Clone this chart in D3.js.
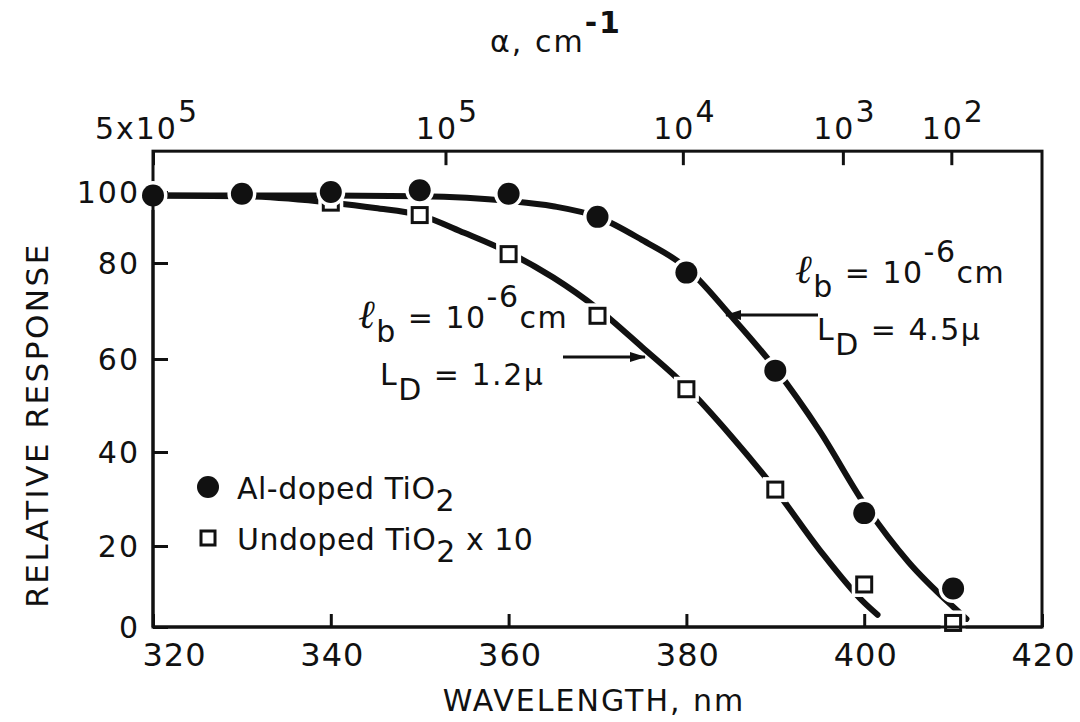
<!DOCTYPE html>
<html>
<head>
<meta charset="utf-8">
<script src="https://cdn.jsdelivr.net/npm/d3@7"></script>
<style>
  html, body { margin: 0; padding: 0; background: #fff; }
  svg { display: block; }
  text { font-family: "DejaVu Sans", sans-serif; fill: #111; }
</style>
</head>
<body>
<svg id="chart" width="1080" height="722"></svg>
<script>
// ---- data ----
const wavelengths = [320, 330, 340, 350, 360, 370, 380, 390, 400, 410];
const alDoped = [99, 99.5, 100, 100.5, 99.5, 93, 78, 57.5, 27, 9.5];
const undopedWl = [340, 350, 360, 370, 380, 390, 400, 410];
const undopedX10 = [97, 93.5, 82.5, 69, 53.5, 32, 10.5, 1];

// fitted (theory) curves
const alCurveWl = [320, 330, 340, 350, 360, 365, 370, 375, 380, 385, 390, 395, 400, 405, 410, 411.5];
const alCurveVal = [99, 99, 99, 98.8, 97.5, 96, 93, 86.5, 79, 69, 58, 44.5, 29, 16, 5, 2];
const undCurveWl = [320, 330, 340, 345, 350, 355, 360, 365, 370, 375, 380, 385, 390, 395, 400, 401.5];
const undCurveVal = [99, 98.8, 97, 95.5, 93.5, 88.5, 83, 77, 70.5, 62.5, 54, 43.5, 32, 19, 6, 3];

const xTicks = [320, 340, 360, 380, 400, 420];
const yTicks = [0, 20, 40, 60, 80, 100];
// top axis: absorption coefficient alpha, placed at the wavelength where it occurs
const alphaWl = [320, 352.9, 379.6, 397.6, 409.8];
const alphaMant = ["5x10", "10", "10", "10", "10"];
const alphaExp = ["5", "5", "4", "3", "2"];

// ---- scales ----
const svg = d3.select("#chart");
const x = d3.scaleLinear().domain([320, 420]).range([153, 1042]);
// hand-drawn ordinate of the original figure (uneven tick spacing)
const y = d3.scaleLinear().domain([0, 20, 40, 60, 80, 100]).range([627, 546, 452, 359, 263, 192]);
const yTop = y(111.5);

const FS = 30;
const SW = 3;

// frame
svg.append("rect")
  .attr("x", x(320)).attr("y", yTop)
  .attr("width", x(420) - x(320)).attr("height", y(0) - yTop)
  .attr("fill", "none").attr("stroke", "#111").attr("stroke-width", SW);

// bottom axis
const gx = svg.append("g").attr("transform", `translate(0,${y(0)})`)
  .call(d3.axisBottom(x).tickValues(xTicks).tickSize(-13).tickPadding(16).tickFormat(d3.format("d")));
gx.select(".domain").remove();
gx.selectAll(".tick line").attr("stroke", "#111").attr("stroke-width", SW);
gx.selectAll(".tick text").attr("font-size", 32).attr("letter-spacing", 1).attr("fill", "#111")
  .attr("font-family", "DejaVu Sans")
  .attr("dx", d => d === 320 ? 21 : 1);

// left axis
const gy = svg.append("g").attr("transform", `translate(${x(320)},0)`)
  .call(d3.axisLeft(y).tickValues(yTicks).tickSize(-15).tickPadding(13).tickFormat(d3.format("d")));
gy.select(".domain").remove();
gy.selectAll(".tick line").attr("stroke", "#111").attr("stroke-width", SW);
gy.selectAll(".tick text").attr("font-size", 30).attr("letter-spacing", 2).attr("fill", "#111")
  .attr("font-family", "DejaVu Sans").attr("dy", "0.36em");

// top axis
const gt = svg.append("g").attr("transform", `translate(0,${yTop})`)
  .call(d3.axisTop(x).tickValues(alphaWl).tickSize(-14).tickFormat(""));
gt.select(".domain").remove();
gt.selectAll(".tick line").attr("stroke", "#111").attr("stroke-width", SW);
const tl = svg.append("g").selectAll("text").data(alphaWl).join("text")
  .attr("x", (d, i) => x(d) + (i === 0 ? -6 : 2))
  .attr("y", yTop - 12)
  .attr("text-anchor", "middle")
  .attr("font-size", FS).attr("letter-spacing", 2);
tl.append("tspan").text((d, i) => alphaMant[i]);
tl.append("tspan").attr("dy", -17).text((d, i) => alphaExp[i]);

// top title
const tt = svg.append("text").attr("x", 556).attr("y", 52).attr("text-anchor", "middle")
  .attr("font-size", FS).attr("letter-spacing", 2);
tt.append("tspan").text("α, cm");
tt.append("tspan").attr("dy", -19).attr("font-weight", "bold").text("-1");

// axis titles
svg.append("text").attr("x", 594).attr("y", 711).attr("text-anchor", "middle")
  .attr("font-size", 30).attr("letter-spacing", 2)
  .text("WAVELENGTH, nm");
svg.append("text").attr("transform", "translate(48,425) rotate(-90)").attr("text-anchor", "middle")
  .attr("font-size", 31).attr("letter-spacing", 2.5)
  .text("RELATIVE RESPONSE");

// curves
const line = d3.line().x(d => x(d[0])).y(d => y(d[1])).curve(d3.curveMonotoneX);
const curves = [
  d3.zip(alCurveWl, alCurveVal),
  d3.zip(undCurveWl, undCurveVal)
];
svg.append("g").selectAll("path").data(curves).join("path")
  .attr("d", line)
  .attr("fill", "none").attr("stroke", "#111").attr("stroke-width", 6)
  .attr("stroke-linecap", "round").attr("stroke-linejoin", "round");

// markers: undoped squares (white halo leaves gaps in the curve)
const S = 15;
const sq = svg.append("g").selectAll("g").data(d3.zip(undopedWl, undopedX10)).join("g")
  .attr("transform", d => `translate(${x(d[0])},${y(d[1])})`);
sq.append("rect").attr("x", -S / 2 - 5).attr("y", -S / 2 - 5).attr("width", S + 10).attr("height", S + 10)
  .attr("fill", "#fff");
sq.append("rect").attr("x", -S / 2).attr("y", -S / 2).attr("width", S).attr("height", S)
  .attr("fill", "#fff").attr("stroke", "#111").attr("stroke-width", SW);

// filled circles
svg.append("g").selectAll("circle").data(d3.zip(wavelengths, alDoped)).join("circle")
  .attr("cx", d => x(d[0])).attr("cy", d => y(d[1])).attr("r", 11)
  .attr("fill", "#111").attr("stroke", "#fff").attr("stroke-width", 7)
  .attr("paint-order", "stroke");

// re-draw axis lines over circle / square halos
svg.append("line").attr("x1", x(320)).attr("x2", x(320)).attr("y1", y(100) + 14).attr("y2", y(0))
  .attr("stroke", "#111").attr("stroke-width", SW);
svg.append("line").attr("x1", x(320)).attr("x2", x(420)).attr("y1", y(0)).attr("y2", y(0))
  .attr("stroke", "#111").attr("stroke-width", SW);

// legend
const lg = svg.append("g");
lg.append("circle").attr("cx", 208).attr("cy", 487).attr("r", 11).attr("fill", "#111");
lg.append("rect").attr("x", 208 - 7).attr("y", 538 - 7).attr("width", 14).attr("height", 14)
  .attr("fill", "#fff").attr("stroke", "#111").attr("stroke-width", SW);
const l1 = lg.append("text").attr("x", 237).attr("y", 499).attr("font-size", FS).attr("letter-spacing", 0.5);
l1.append("tspan").text("Al-doped TiO");
l1.append("tspan").attr("dy", 12).text("2");
const l2 = lg.append("text").attr("x", 237).attr("y", 550).attr("font-size", FS).attr("letter-spacing", 0.5);
l2.append("tspan").text("Undoped TiO");
l2.append("tspan").attr("dy", 12).text("2");
l2.append("tspan").attr("dy", -12).text(" x 10");

// annotations
function annot(x0, y0, ld) {
  const g = svg.append("g");
  const t1 = g.append("text").attr("x", x0).attr("y", y0).attr("font-size", FS).attr("letter-spacing", 1.5);
  t1.append("tspan").attr("font-style", "italic").attr("font-family", "DejaVu Serif").attr("font-size", 40).text("ℓ");
  t1.append("tspan").attr("dy", 14).text("b");
  t1.append("tspan").attr("dy", -14).text(" = 10");
  t1.append("tspan").attr("dy", -21).text("-6");
  t1.append("tspan").attr("dy", 21).text("cm");
  const t2 = g.append("text").attr("x", x0 + 22).attr("y", y0 + 57).attr("font-size", FS).attr("letter-spacing", 1.5);
  t2.append("tspan").text("L");
  t2.append("tspan").attr("dy", 15).text("D");
  t2.append("tspan").attr("dy", -15).text(" = " + ld + "μ");
}
annot(358, 328, "1.2");
annot(795, 283, "4.5");

// arrows
svg.append("defs").append("marker").attr("id", "ah").attr("viewBox", "0 0 16 12")
  .attr("refX", 15).attr("refY", 6).attr("markerWidth", 16).attr("markerHeight", 12)
  .attr("markerUnits", "userSpaceOnUse").attr("orient", "auto")
  .append("path").attr("d", "M0,1 L16,6 L0,11 Z").attr("fill", "#111");
svg.append("line").attr("x1", 563).attr("y1", 357).attr("x2", 645).attr("y2", 357)
  .attr("stroke", "#111").attr("stroke-width", SW).attr("marker-end", "url(#ah)");
svg.append("line").attr("x1", 818).attr("y1", 315).attr("x2", 726).attr("y2", 315)
  .attr("stroke", "#111").attr("stroke-width", SW).attr("marker-end", "url(#ah)");
</script>
</body>
</html>
